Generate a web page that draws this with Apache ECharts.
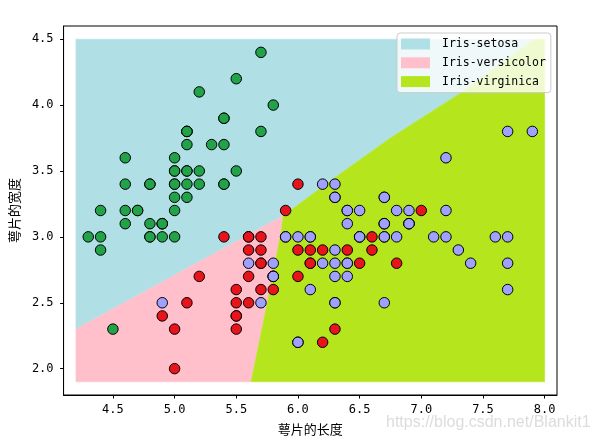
<!DOCTYPE html>
<html>
<head>
<meta charset="utf-8">
<script src="https://cdn.jsdelivr.net/npm/echarts@6/dist/echarts.min.js"></script>
<style>html,body{margin:0;padding:0;background:#fff;}#c{width:596px;height:442px;}</style>
</head>
<body>
<div id="c"></div>
<script>
// ---- data ----
const classNames = ['Iris-setosa', 'Iris-versicolor', 'Iris-virginica'];
const xTicks = [4.5, 5.0, 5.5, 6.0, 6.5, 7.0, 7.5, 8.0];
const yTicks = [2.0, 2.5, 3.0, 3.5, 4.0, 4.5];
const xAxisRange = [4.1, 8.1];
const yAxisRange = [1.8, 4.6];
// decision-region mesh extent
const meshX = [4.2, 8.0];
const meshY = [1.9, 4.5];
// decision boundaries (sepal length, sepal width)
const boundarySetosaVersicolor = [[4.2, 2.30], [5.88, 3.16]];
const boundaryVersicolorVirginica = [[5.62, 1.9], [5.756, 2.52], [5.866, 3.05], [5.88, 3.16]];
const boundarySetosaVirginica = [[5.88, 3.16], [6.3, 3.45], [6.75, 3.75], [7.3, 4.08], [7.92, 4.5]];

const setosaPts = [[5.1,3.5],[4.9,3.0],[4.7,3.2],[4.6,3.1],[5.0,3.6],[5.4,3.9],[4.6,3.4],[5.0,3.4],[4.4,2.9],[4.9,3.1],
[5.4,3.7],[4.8,3.4],[4.8,3.0],[4.3,3.0],[5.8,4.0],[5.7,4.4],[5.4,3.9],[5.1,3.5],[5.7,3.8],[5.1,3.8],
[5.4,3.4],[5.1,3.7],[4.6,3.6],[5.1,3.3],[4.8,3.4],[5.0,3.0],[5.0,3.4],[5.2,3.5],[5.2,3.4],[4.7,3.2],
[4.8,3.1],[5.4,3.4],[5.2,4.1],[5.5,4.2],[4.9,3.1],[5.0,3.2],[5.5,3.5],[4.9,3.1],[4.4,3.0],[5.1,3.4],
[5.0,3.5],[4.5,2.3],[4.4,3.2],[5.0,3.5],[5.1,3.8],[4.8,3.0],[5.1,3.8],[4.6,3.2],[5.3,3.7],[5.0,3.3]];
const versicolorPts = [[7.0,3.2],[6.4,3.2],[6.9,3.1],[5.5,2.3],[6.5,2.8],[5.7,2.8],[6.3,3.3],[4.9,2.4],[6.6,2.9],[5.2,2.7],
[5.0,2.0],[5.9,3.0],[6.0,2.2],[6.1,2.9],[5.6,2.9],[6.7,3.1],[5.6,3.0],[5.8,2.7],[6.2,2.2],[5.6,2.5],
[5.9,3.2],[6.1,2.8],[6.3,2.5],[6.1,2.8],[6.4,2.9],[6.6,3.0],[6.8,2.8],[6.7,3.0],[6.0,2.9],[5.7,2.6],
[5.5,2.4],[5.5,2.4],[5.8,2.7],[6.0,2.7],[5.4,3.0],[6.0,3.4],[6.7,3.1],[6.3,2.3],[5.6,3.0],[5.5,2.5],
[5.5,2.6],[6.1,3.0],[5.8,2.6],[5.0,2.3],[5.6,2.7],[5.7,3.0],[5.7,2.9],[6.2,2.9],[5.1,2.5],[5.7,2.8]];
const virginicaPts = [[6.3,3.3],[5.8,2.7],[7.1,3.0],[6.3,2.9],[6.5,3.0],[7.6,3.0],[4.9,2.5],[7.3,2.9],[6.7,2.5],[7.2,3.6],
[6.5,3.2],[6.4,2.7],[6.8,3.0],[5.7,2.5],[5.8,2.8],[6.4,3.2],[6.5,3.0],[7.7,3.8],[7.7,2.6],[6.0,2.2],
[6.9,3.2],[5.6,2.8],[7.7,2.8],[6.3,2.7],[6.7,3.3],[7.2,3.2],[6.2,2.8],[6.1,3.0],[6.4,2.8],[7.2,3.0],
[7.4,2.8],[7.9,3.8],[6.4,2.8],[6.3,2.8],[6.1,2.6],[7.7,3.0],[6.3,3.4],[6.4,3.1],[6.0,3.0],[6.9,3.1],
[6.7,3.1],[6.9,3.1],[5.8,2.7],[6.8,3.2],[6.7,3.3],[6.7,3.0],[6.3,2.5],[6.5,3.0],[6.2,3.4],[5.9,3.0]];

// ---- styling ----
const regionColors = ['#b0e0e6', '#ffc0cb', '#b5e61d'];
const pointColors = ['#22a34a', '#e8141c', '#a0a0ff'];
const monoFont = "'DejaVu Sans Mono', 'Liberation Mono', monospace";
const cjkFont = "'Noto Sans CJK SC', sans-serif";

// ---- region polygons built from the boundaries ----
const polySetosa = [[meshX[0], meshY[1]], boundarySetosaVersicolor[0]]
  .concat(boundarySetosaVirginica);
const polyVersicolor = [[meshX[0], meshY[0]]]
  .concat(boundaryVersicolorVirginica)
  .concat([boundarySetosaVersicolor[0]]);
const polyVirginica = [[meshX[1], meshY[0]], [meshX[1], meshY[1]]]
  .concat(boundarySetosaVirginica.slice().reverse())
  .concat(boundaryVersicolorVirginica.slice().reverse().slice(1));
const polys = [polySetosa, polyVersicolor, polyVirginica];

const regionSeries = polys.map((poly, i) => ({
  type: 'custom',
  name: classNames[i],
  coordinateSystem: 'cartesian2d',
  itemStyle: { color: regionColors[i] },
  silent: true,
  z: 1,
  data: [poly[0]],
  renderItem: function (params, api) {
    return {
      type: 'polygon',
      shape: { points: poly.map(p => api.coord(p)) },
      style: { fill: regionColors[i], stroke: regionColors[i], lineWidth: 0.5 }
    };
  }
}));

const scatterSeries = [setosaPts, versicolorPts, virginicaPts].map((pts, i) => ({
  type: 'scatter',
  name: 'pts' + i,
  data: pts,
  symbol: 'circle',
  symbolSize: 10.5,
  z: 3,
  silent: true,
  itemStyle: { color: pointColors[i], borderColor: '#000', borderWidth: 1, opacity: 1 }
}));

const chart = echarts.init(document.getElementById('c'), null, { renderer: 'canvas' });
chart.setOption({
  animation: false,
  backgroundColor: '#fff',
  grid: { left: 61, right: 39, top: 26, bottom: 47, show: true, borderColor: '#000', borderWidth: 1, backgroundColor: '#fff' },
  xAxis: {
    type: 'value', min: xAxisRange[0], max: xAxisRange[1],
    name: '萼片的长度', nameLocation: 'middle', nameGap: 28,
    nameTextStyle: { fontFamily: cjkFont, fontSize: 13, color: '#000' },
    axisLine: { show: true, onZero: false, lineStyle: { color: '#000', width: 1 } },
    axisTick: { show: true, length: 3.5, lineStyle: { color: '#000' }, customValues: xTicks },
    axisLabel: { color: '#000', fontFamily: monoFont, fontSize: 12, margin: 9, customValues: xTicks, formatter: v => v.toFixed(1) },
    splitLine: { show: false }
  },
  yAxis: {
    type: 'value', min: yAxisRange[0], max: yAxisRange[1],
    name: '萼片的宽度', nameLocation: 'middle', nameGap: 36,
    nameTextStyle: { fontFamily: cjkFont, fontSize: 13, color: '#000' },
    axisLine: { show: true, onZero: false, lineStyle: { color: '#000', width: 1 } },
    axisTick: { show: true, length: 3.5, lineStyle: { color: '#000' }, customValues: yTicks },
    axisLabel: { color: '#000', fontFamily: monoFont, fontSize: 12, margin: 10, customValues: yTicks, formatter: v => v.toFixed(1) },
    splitLine: { show: false }
  },
  legend: {
    data: classNames,
    selectedMode: false,
    left: 397, top: 33,
    orient: 'vertical',
    icon: 'rect',
    itemWidth: 29, itemHeight: 11, itemGap: 4.8,
    padding: [4, 5, 4, 4],
    backgroundColor: 'rgba(255,255,255,0.8)',
    borderColor: '#cccccc', borderWidth: 1, borderRadius: 3,
    textStyle: { fontFamily: monoFont, fontSize: 11.5, color: '#000', lineHeight: 14, padding: [0, 0, 0, 7] },
    z: 10
  },
  graphic: [{
    type: 'text', left: 386, top: 415, z: 100, silent: true,
    style: { text: 'https://blog.csdn.net/Blankit1', fill: 'rgba(205,205,205,0.7)', font: "16px 'Liberation Sans', Arial, sans-serif" }
  }],
  series: regionSeries.concat(scatterSeries)
});
</script>
</body>
</html>
